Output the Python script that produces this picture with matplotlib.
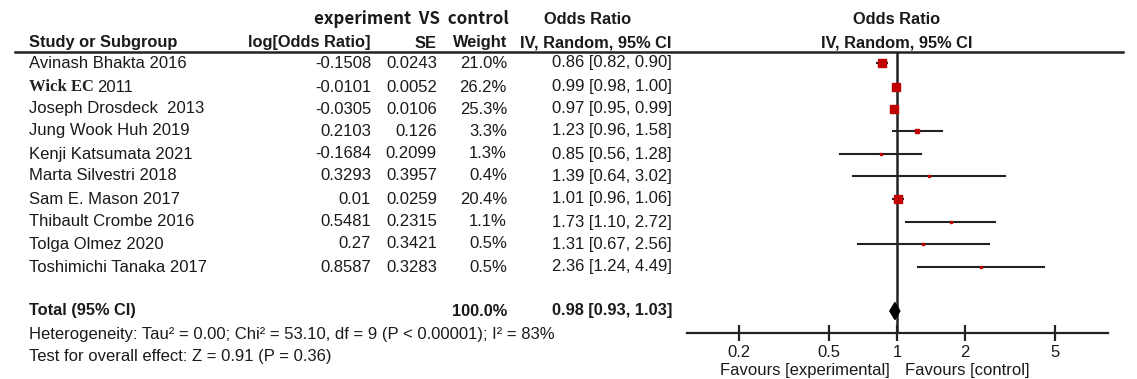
import numpy as np
import matplotlib.pyplot as plt

studies = ["Avinash Bhakta 2016", "Wick EC 2011", "Joseph Drosdeck  2013", "Jung Wook Huh 2019",
           "Kenji Katsumata 2021", "Marta Silvestri 2018", "Sam E. Mason 2017",
           "Thibault Crombe 2016", "Tolga Olmez 2020", "Toshimichi Tanaka 2017"]
log_or = ["-0.1508", "-0.0101", "-0.0305", "0.2103", "-0.1684", "0.3293", "0.01", "0.5481", "0.27", "0.8587"]
se = ["0.0243", "0.0052", "0.0106", "0.126", "0.2099", "0.3957", "0.0259", "0.2315", "0.3421", "0.3283"]
weight = [21.0, 26.2, 25.3, 3.3, 1.3, 0.4, 20.4, 1.1, 0.5, 0.5]
or_est = [0.86, 0.99, 0.97, 1.23, 0.85, 1.39, 1.01, 1.73, 1.31, 2.36]
ci_lo = [0.82, 0.98, 0.95, 0.96, 0.56, 0.64, 0.96, 1.10, 0.67, 1.24]
ci_hi = [0.90, 1.00, 0.99, 1.58, 1.28, 3.02, 1.06, 2.72, 2.56, 4.49]
total_or, total_lo, total_hi = 0.98, 0.93, 1.03
ticks = [0.2, 0.5, 1, 2, 5]

W, H = 1137, 379
fig = plt.figure(figsize=(W / 100, H / 100), dpi=100)
plt.rcParams['font.family'] = ['Liberation Sans', 'DejaVu Sans']

# text layer in pixel coordinates
tx = fig.add_axes([0, 0, 1, 1])
tx.set_xlim(0, W)
tx.set_ylim(H, 0)
tx.axis('off')

rows = [63, 87, 109, 131, 154, 176, 199, 222, 244, 267]
fs = 12
hfs = 11.8
ink = '#1a1a1a'
red = '#c00000'

tx.text(411, 19, "experiment  VS  control", ha='center', va='center', fontsize=12.2,
        fontweight='bold', family=['Noto Sans CJK KR', 'DejaVu Sans'], color=ink)
tx.text(588, 20, "Odds Ratio", ha='center', va='center', fontsize=hfs, fontweight='bold', color=ink)
tx.text(897, 20, "Odds Ratio", ha='center', va='center', fontsize=hfs, fontweight='bold', color=ink)
tx.text(29, 43, "Study or Subgroup", ha='left', va='center', fontsize=hfs, fontweight='bold', color=ink)
tx.text(371, 43, "log[Odds Ratio]", ha='right', va='center', fontsize=hfs, fontweight='bold', color=ink)
tx.text(437, 43, "SE", ha='right', va='center', fontsize=hfs, fontweight='bold', color=ink)
tx.text(507, 43, "Weight", ha='right', va='center', fontsize=hfs, fontweight='bold', color=ink)
tx.text(672, 43, "IV, Random, 95% CI", ha='right', va='center', fontsize=hfs, fontweight='bold', color=ink)
tx.text(897, 43, "IV, Random, 95% CI", ha='center', va='center', fontsize=hfs, fontweight='bold', color=ink)
tx.plot([15, 1123], [52, 52], color='#222222', lw=1.8)

for i, y in enumerate(rows):
    name = studies[i]
    if name.startswith("Wick EC"):
        tx.text(29, y, "Wick EC", ha='left', va='center', fontsize=fs, fontweight='bold',
                family='Liberation Serif', color='#222222')
        tx.text(97, y, "2011", ha='left', va='center', fontsize=fs, color=ink)
    else:
        tx.text(29, y, name, ha='left', va='center', fontsize=fs, color=ink)
    tx.text(371, y, log_or[i], ha='right', va='center', fontsize=fs, color=ink)
    tx.text(437, y, se[i], ha='right', va='center', fontsize=fs, color=ink)
    tx.text(507, y, f"{weight[i]:.1f}%", ha='right', va='center', fontsize=fs, color=ink)
    tx.text(672, y, f"{or_est[i]:.2f} [{ci_lo[i]:.2f}, {ci_hi[i]:.2f}]", ha='right', va='center',
            fontsize=fs, color=ink)

ty = 311
tx.text(29, ty, "Total (95% CI)", ha='left', va='center', fontsize=hfs, fontweight='bold', color=ink)
tx.text(507, ty, f"{sum(weight):.1f}%", ha='right', va='center', fontsize=hfs, fontweight='bold', color=ink)
tx.text(672, ty, f"{total_or:.2f} [{total_lo:.2f}, {total_hi:.2f}]", ha='right', va='center',
        fontsize=hfs, fontweight='bold', color=ink)
tx.text(29, 335, "Heterogeneity: Tau\u00b2 = 0.00; Chi\u00b2 = 53.10, df = 9 (P < 0.00001); I\u00b2 = 83%",
        ha='left', va='center', fontsize=fs, color=ink)
tx.text(29, 357, "Test for overall effect: Z = 0.91 (P = 0.36)", ha='left', va='center', fontsize=fs, color=ink)

# forest panel
x0, x1, ytop, ybot = 687, 1108, 52, 333
ax = fig.add_axes([x0 / W, (H - ybot) / H, (x1 - x0) / W, (ybot - ytop) / H])
ax.patch.set_alpha(0)
ax.set_xscale('log')
ax.set_xlim(10 ** -0.929, 10 ** 0.934)
ax.set_ylim(ybot, ytop)
for s in ['top', 'left', 'right']:
    ax.spines[s].set_visible(False)
ax.spines['bottom'].set_linewidth(1.6)
ax.spines['bottom'].set_color('#222222')
ax.set_yticks([])
ax.set_xticks(ticks)
ax.set_xticklabels([f"{t:g}" for t in ticks], fontsize=fs, color=ink)
ax.xaxis.set_minor_locator(plt.NullLocator())
ax.tick_params(axis='x', direction='inout', length=11, width=1.6, pad=3, color='#222222')

ax.plot([1, 1], [ytop, ybot], color='#222222', lw=1.8, zorder=2)
for i, y in enumerate(rows):
    ax.plot([ci_lo[i], ci_hi[i]], [y, y], color='#222222', lw=1.5, zorder=3)
    side = 1.45 * np.sqrt(weight[i]) + 1.0
    ax.plot(or_est[i], y, marker='s', ms=side * 0.72, color=red, mec=red, lw=0, zorder=4)

dh = 8.5
ax.fill([total_lo, total_or, total_hi, total_or], [ty, ty - dh, ty, ty + dh], color='black', zorder=4)

tx.text(890, 371, "Favours [experimental]", ha='right', va='center', fontsize=fs, color=ink)
tx.text(905, 371, "Favours [control]", ha='left', va='center', fontsize=fs, color=ink)

fig.savefig("out.png", dpi=100)
